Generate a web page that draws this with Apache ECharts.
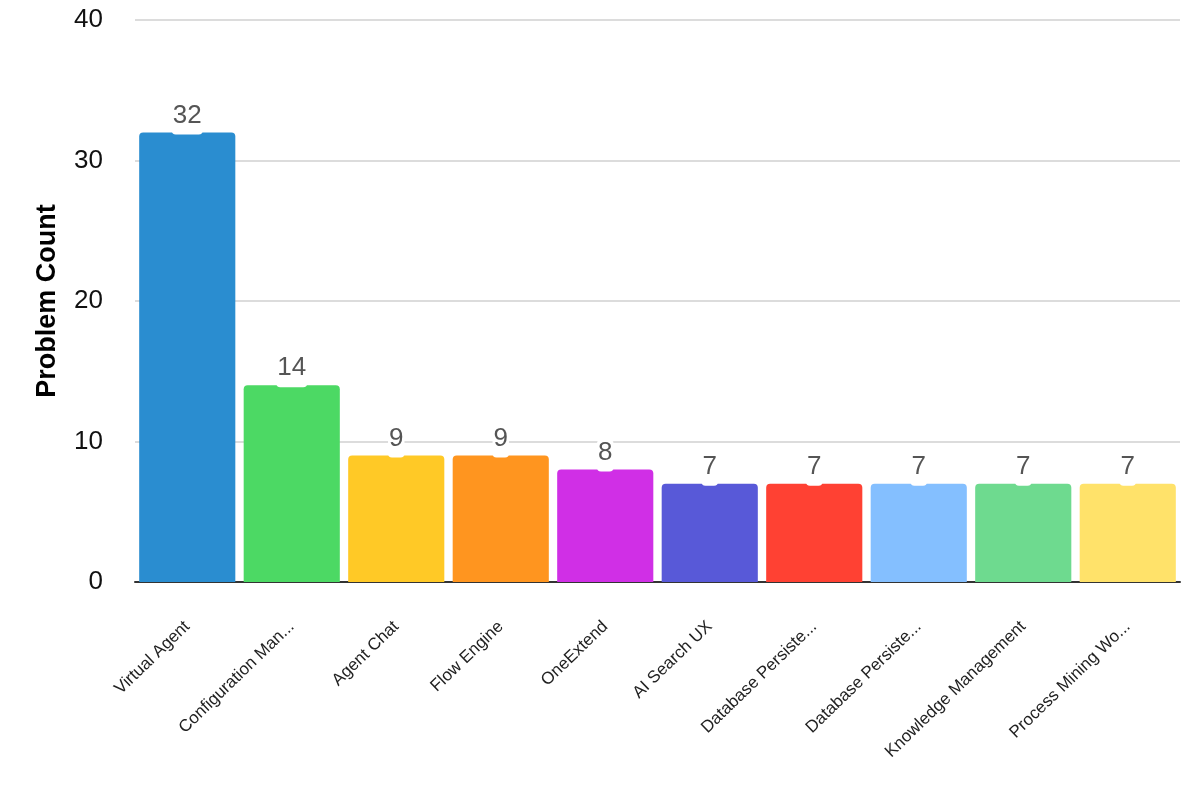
<!DOCTYPE html>
<html>
<head>
<meta charset="utf-8">
<script src="https://cdn.jsdelivr.net/npm/echarts@6/dist/echarts.min.js"></script>
<style>
  html, body { margin: 0; padding: 0; background: #fff; }
  #chart { width: 1200px; height: 800px; }
</style>
</head>
<body>
<div id="chart"></div>
<script>
const categories = [
  "Virtual Agent",
  "Configuration Man...",
  "Agent Chat",
  "Flow Engine",
  "OneExtend",
  "AI Search UX",
  "Database Persiste...",
  "Database Persiste...",
  "Knowledge Management",
  "Process Mining Wo..."
];
const problemCounts = [32, 14, 9, 9, 8, 7, 7, 7, 7, 7];
const barColors = [
  "#2A8DD0", "#4CD964", "#FFC926", "#FF951F", "#D02FE6",
  "#5859D8", "#FF4133", "#84BFFF", "#6EDA8F", "#FFE26A"
];
const yTicks = { min: 0, max: 40, interval: 10 };

const chart = echarts.init(document.getElementById("chart"), null, { renderer: "canvas" });

chart.setOption({
  animation: false,
  grid: { left: 135, right: 20, top: 20, bottom: 218, containLabel: false },
  xAxis: {
    type: "category",
    data: categories,
    axisLine: { lineStyle: { color: "#333", width: 2 } },
    axisTick: { show: false },
    axisLabel: {
      interval: 0,
      rotate: 44,
      margin: 42,
      fontSize: 17,
      color: "#222",
      fontFamily: "Liberation Sans, Arial, sans-serif"
    }
  },
  yAxis: {
    type: "value",
    min: yTicks.min,
    max: yTicks.max,
    interval: yTicks.interval,
    name: "Problem Count",
    nameLocation: "middle",
    nameGap: 74,
    nameTextStyle: {
      fontSize: 27,
      fontWeight: "bold",
      color: "#000",
      fontFamily: "Liberation Sans, Arial, sans-serif"
    },
    axisLine: { show: false },
    axisTick: { show: false },
    axisLabel: {
      margin: 32,
      fontSize: 26,
      color: "#111",
      fontFamily: "Liberation Sans, Arial, sans-serif"
    },
    splitLine: { lineStyle: { color: "#d0d0d0", width: 1.5 } }
  },
  series: [{
    type: "bar",
    data: problemCounts.map((v, i) => ({ value: v, itemStyle: { color: barColors[i] } })),
    barCategoryGap: "8%",
    itemStyle: { borderRadius: [4, 4, 0, 0] },
    label: {
      show: true,
      position: "top",
      distance: -2,
      fontSize: 26,
      color: "#555",
      backgroundColor: "#fff",
      borderRadius: 4,
      padding: [0, 1, 6, 1],
      fontFamily: "Liberation Sans, Arial, sans-serif"
    }
  }]
});
</script>
</body>
</html>
